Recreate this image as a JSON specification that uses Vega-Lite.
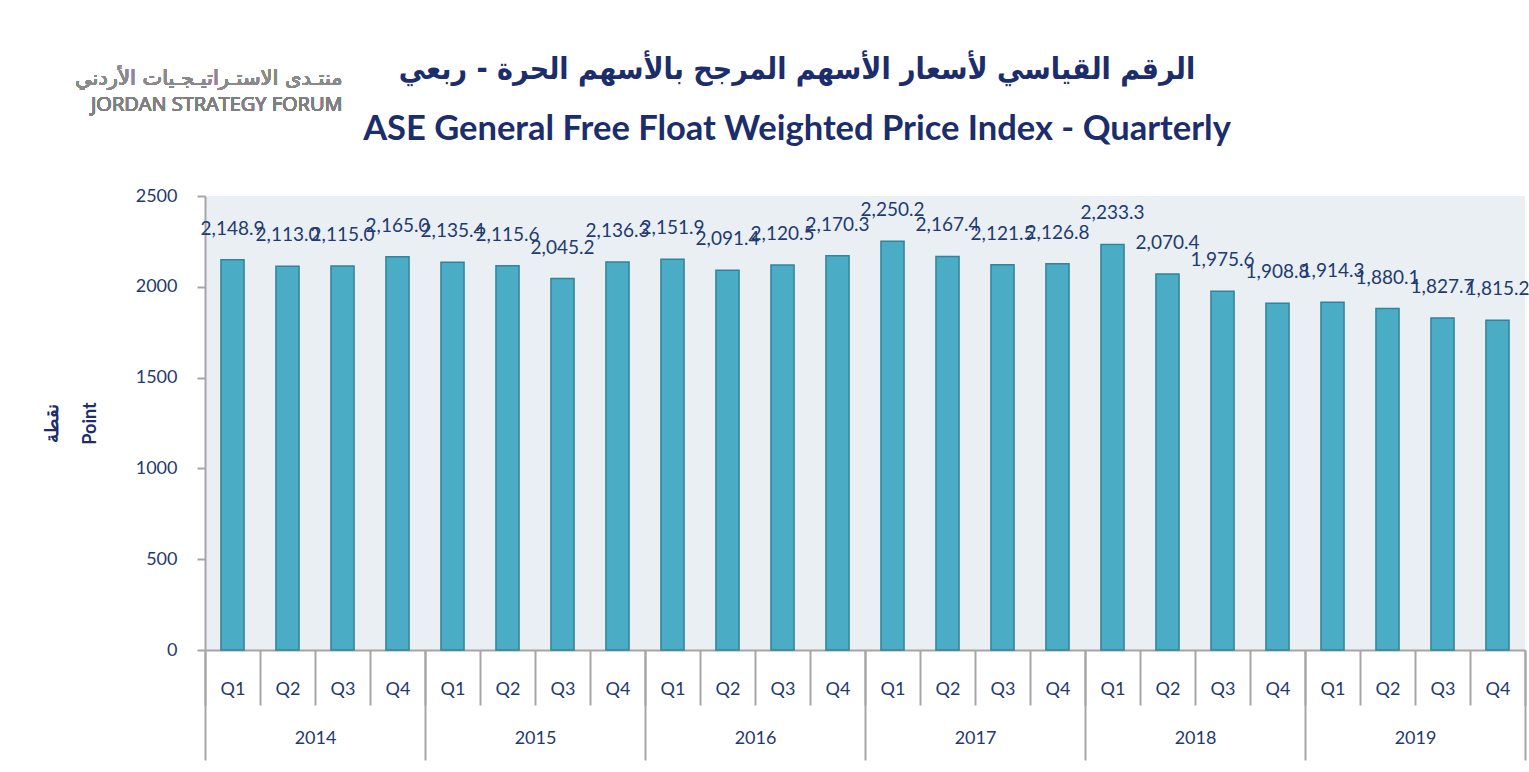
{
  "$schema": "https://vega.github.io/schema/vega-lite/v6.json",
  "width": 1320,
  "height": 454,
  "autosize": {"type": "none"},
  "padding": {"left": 205, "top": 196, "right": 4, "bottom": 122},
  "background": "white",
  "config": {"view": {"fill": "#e9eff3", "stroke": null}, "font": "Lato"},
  "title": {
    "text": "الرقم القياسي لأسعار الأسهم المرجح بالأسهم الحرة - ربعي",
    "subtitle": "ASE General Free Float Weighted Price Index - Quarterly",
    "font": "DejaVu Sans Condensed, DejaVu Sans",
    "fontSize": 30,
    "fontWeight": "bold",
    "color": "#1c2d6b",
    "subtitleFont": "Lato",
    "subtitleFontSize": 34.5,
    "subtitleFontWeight": "bold",
    "subtitleColor": "#1c2d6b",
    "subtitlePadding": 28,
    "anchor": "middle",
    "frame": "group",
    "dx": -68,
    "dy": 128,
    "offset": 50
  },
  "datasets": {
    "quarters": [
      {"period": "2014 Q1", "year": "2014", "value": 2148.9},
      {"period": "2014 Q2", "year": "2014", "value": 2113.0},
      {"period": "2014 Q3", "year": "2014", "value": 2115.0},
      {"period": "2014 Q4", "year": "2014", "value": 2165.0},
      {"period": "2015 Q1", "year": "2015", "value": 2135.4},
      {"period": "2015 Q2", "year": "2015", "value": 2115.6},
      {"period": "2015 Q3", "year": "2015", "value": 2045.2},
      {"period": "2015 Q4", "year": "2015", "value": 2136.3},
      {"period": "2016 Q1", "year": "2016", "value": 2151.9},
      {"period": "2016 Q2", "year": "2016", "value": 2091.4},
      {"period": "2016 Q3", "year": "2016", "value": 2120.5},
      {"period": "2016 Q4", "year": "2016", "value": 2170.3},
      {"period": "2017 Q1", "year": "2017", "value": 2250.2},
      {"period": "2017 Q2", "year": "2017", "value": 2167.4},
      {"period": "2017 Q3", "year": "2017", "value": 2121.5},
      {"period": "2017 Q4", "year": "2017", "value": 2126.8},
      {"period": "2018 Q1", "year": "2018", "value": 2233.3},
      {"period": "2018 Q2", "year": "2018", "value": 2070.4},
      {"period": "2018 Q3", "year": "2018", "value": 1975.6},
      {"period": "2018 Q4", "year": "2018", "value": 1908.8},
      {"period": "2019 Q1", "year": "2019", "value": 1914.3},
      {"period": "2019 Q2", "year": "2019", "value": 1880.1},
      {"period": "2019 Q3", "year": "2019", "value": 1827.7},
      {"period": "2019 Q4", "year": "2019", "value": 1815.2}
    ],
    "years": [
      {"year": "2014"}, {"year": "2015"}, {"year": "2016"},
      {"year": "2017"}, {"year": "2018"}, {"year": "2019"}
    ]
  },
  "layer": [
    {
      "data": {"name": "quarters"},
      "encoding": {
        "x": {
          "field": "period",
          "type": "nominal",
          "sort": null,
          "scale": {"type": "band", "paddingInner": 0, "paddingOuter": 0},
          "axis": {
            "title": null,
            "orient": "bottom",
            "labelExpr": "split(datum.label, ' ')[1]",
            "labelAngle": 0,
            "labelFont": "Lato",
            "labelFontSize": 18,
            "labelColor": "#1f3a6e",
            "labelPadding": -25,
            "tickBand": "extent",
            "tickSize": 55,
            "tickWidth": 2,
            "tickColor": "#a6a6a6",
            "domainColor": "#a6a6a6",
            "domainWidth": 2,
            "grid": false
          }
        },
        "y": {
          "field": "value",
          "type": "quantitative",
          "scale": {"domain": [0, 2500], "nice": false},
          "axis": {
            "values": [0, 500, 1000, 1500, 2000, 2500],
            "format": "d",
            "grid": false,
            "title": ["نقطة", "Point"],
            "titleFont": "Lato",
            "titleFontSize": 18,
            "titleFontWeight": "bold",
            "titleColor": "#1c2d6b",
            "titleLineHeight": 38,
            "titlePadding": 36,
            "labelFont": "Lato",
            "labelFontSize": 18,
            "labelColor": "#1f3a6e",
            "labelPadding": 20,
            "tickSize": 8,
            "tickWidth": 2,
            "tickColor": "#a6a6a6",
            "domainColor": "#a6a6a6",
            "domainWidth": 2
          }
        }
      },
      "layer": [
        {
          "mark": {"type": "bar", "width": {"band": 0.42}, "fill": "#4bacc6", "stroke": "#31849b", "strokeWidth": 1.5}
        },
        {
          "mark": {"type": "text", "baseline": "alphabetic", "dy": -25, "fontSize": 19, "font": "Lato", "color": "#1f3a6e"},
          "encoding": {"text": {"field": "value", "type": "quantitative", "format": ",.1f"}}
        },
        {
          "mark": {"type": "text", "text": "منتـدى الاستـراتيـجـيات الأردني", "align": "right", "baseline": "alphabetic", "fontSize": 21, "font": "DejaVu Sans", "color": "#8a8a8a"},
          "encoding": {"x": {"datum": "2014 Q3"}, "y": {"datum": 3110}, "text": null}
        },
        {
          "mark": {"type": "text", "text": "JORDAN STRATEGY FORUM", "align": "right", "baseline": "alphabetic", "fontSize": 20, "font": "Open Sans", "color": "#808080"},
          "encoding": {"x": {"datum": "2014 Q3"}, "y": {"datum": 2968}, "text": null}
        }
      ]
    },
    {
      "data": {"name": "years"},
      "mark": {"type": "point", "opacity": 0},
      "encoding": {
        "x": {
          "field": "year",
          "type": "nominal",
          "sort": null,
          "scale": {"type": "band", "paddingInner": 0, "paddingOuter": 0},
          "axis": {
            "title": null,
            "orient": "bottom",
            "labelAngle": 0,
            "labelFont": "Lato",
            "labelFontSize": 18,
            "labelColor": "#1f3a6e",
            "labelPadding": -31,
            "tickBand": "extent",
            "tickSize": 110,
            "tickWidth": 2,
            "tickColor": "#a6a6a6",
            "domain": false,
            "grid": false
          }
        }
      }
    }
  ],
  "resolve": {"scale": {"x": "independent"}, "axis": {"x": "independent"}}
}
